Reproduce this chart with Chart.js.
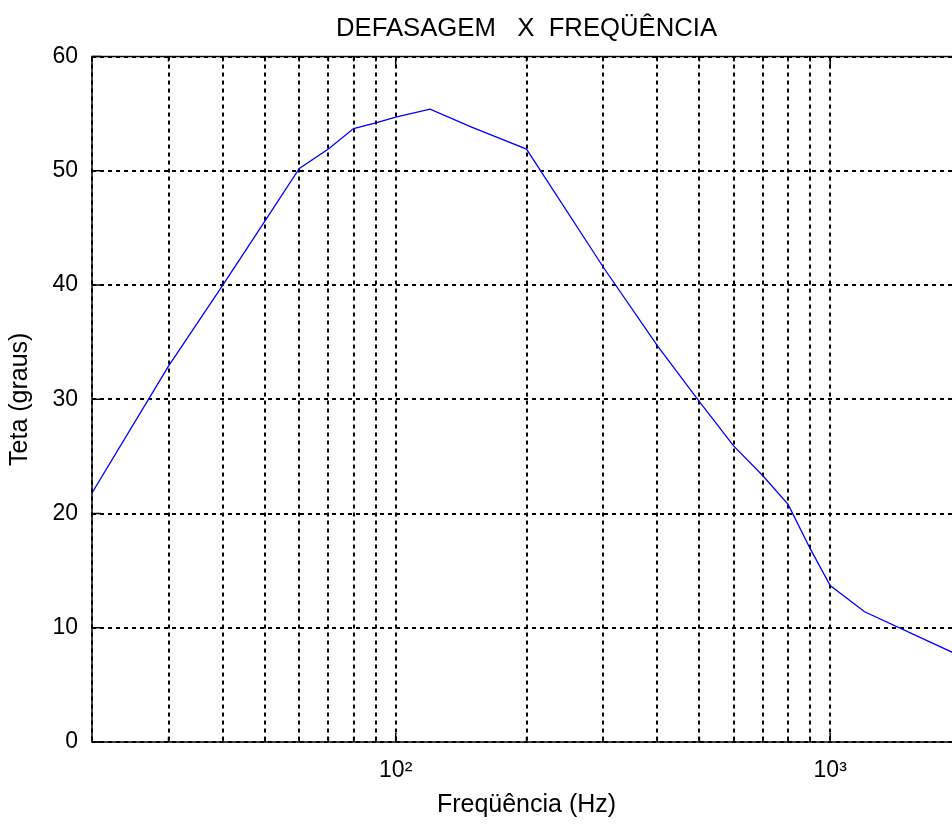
<!DOCTYPE html>
<html>
<head>
<meta charset="utf-8">
<title>Defasagem x Frequência</title>
<script src="https://cdn.jsdelivr.net/npm/chart.js@4.4.1/dist/chart.umd.min.js"></script>
<style>
  html, body { margin: 0; padding: 0; background: #fff; overflow: hidden; }
  #phaseChart { display: block; }
</style>
</head>
<body>
<canvas id="phaseChart" width="961" height="826"></canvas>
<script>
// measured points (Hz, degrees)
const frequencies = [20, 30, 40, 50, 60, 70, 80, 90, 100, 120, 150, 200, 300, 400, 500, 600, 700, 800, 900, 1000, 1200, 2000];
const phaseDegrees = [21.8, 32.9, 40.0, 45.6, 50.2, 51.9, 53.7, 54.2, 54.7, 55.4, 53.8, 51.9, 41.6, 34.7, 29.8, 25.9, 23.3, 20.8, 16.9, 13.7, 11.4, 7.5];

const xTickValues = [20, 30, 40, 50, 60, 70, 80, 90, 100, 200, 300, 400, 500, 600, 700, 800, 900, 1000, 2000];
const xTickLabels = { 100: '10²', 1000: '10³' };
const yTickValues = [0, 10, 20, 30, 40, 50, 60];

const fontFamily = '"Liberation Sans", Arial, Helvetica, sans-serif';
Chart.defaults.font.family = fontFamily;
Chart.defaults.color = '#000';

// solid box + inward tick marks, matlab style
const axisFrame = {
	id: 'axisFrame',
	afterDatasetsDraw(chart) {
		const { ctx, chartArea: a, scales: { x, y } } = chart;
		ctx.save();
		ctx.strokeStyle = '#000';
		ctx.lineWidth = 1.5;
		ctx.setLineDash([]);
		ctx.beginPath();
		for (const v of xTickValues) {
			const px = x.getPixelForValue(v);
			const len = xTickLabels[v] ? 9 : 5;
			ctx.moveTo(px, a.bottom);
			ctx.lineTo(px, a.bottom - len);
			ctx.moveTo(px, a.top);
			ctx.lineTo(px, a.top + len);
		}
		for (const v of yTickValues) {
			const py = y.getPixelForValue(v);
			ctx.moveTo(a.left, py);
			ctx.lineTo(a.left + 9, py);
			ctx.moveTo(a.right, py);
			ctx.lineTo(a.right - 9, py);
		}
		ctx.stroke();
		ctx.strokeRect(a.left, a.top, a.right - a.left, a.bottom - a.top);
		ctx.restore();
	}
};

const points = frequencies.map((f, i) => ({ x: f, y: phaseDegrees[i] }));

new Chart(document.getElementById('phaseChart'), {
	type: 'line',
	data: {
		datasets: [{
			data: points,
			borderColor: '#0000ff',
			borderWidth: 1.3,
			pointRadius: 0,
			tension: 0,
			fill: false
		}]
	},
	options: {
		responsive: false,
		animation: false,
		devicePixelRatio: 1,
		layout: { padding: 0 },
		plugins: {
			legend: { display: false },
			tooltip: { enabled: false },
			title: {
				display: true,
				fullSize: false,
				text: 'DEFASAGEM   X  FREQÜÊNCIA',
				color: '#000',
				font: { size: 25.7, weight: 'normal' },
				padding: { top: 13, bottom: 12.7 }
			}
		},
		scales: {
			x: {
				type: 'logarithmic',
				min: 20,
				max: 2000,
				afterBuildTicks: (s) => { s.ticks = xTickValues.map(v => ({ value: v })); },
				afterFit: (s) => {
					s.height = 84;
					s.paddingLeft = 0;
					s.paddingRight = 0;
				},
				ticks: {
					autoSkip: false,
					maxRotation: 0,
					padding: 15,
					color: '#000',
					font: { size: 23 },
					callback: (v) => xTickLabels[v] || ''
				},
				grid: { color: '#000', lineWidth: 2, drawTicks: false },
				border: { display: false, dash: [4, 4] },
				title: {
					display: true,
					text: 'Freqüência (Hz)',
					color: '#000',
					font: { size: 25 },
					padding: { top: 0, bottom: 6 }
				}
			},
			y: {
				type: 'linear',
				min: 0,
				max: 60,
				afterBuildTicks: (s) => { s.ticks = yTickValues.map(v => ({ value: v })); },
				afterFit: (s) => { s.width = 92; },
				ticks: {
					padding: 14,
					color: '#000',
					font: { size: 23 }
				},
				grid: { color: '#000', lineWidth: 2, drawTicks: false },
				border: { display: false, dash: [4, 4] },
				title: {
					display: true,
					text: 'Teta (graus)',
					color: '#000',
					font: { size: 25 },
					padding: { top: 5, bottom: 0 }
				}
			}
		}
	},
	plugins: [axisFrame]
});
</script>
</body>
</html>
